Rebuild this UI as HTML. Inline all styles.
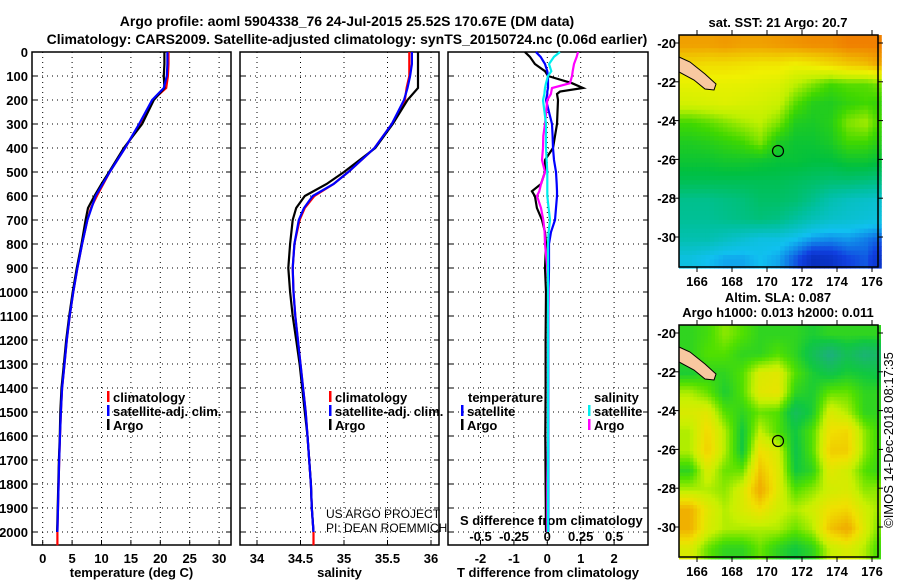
<!DOCTYPE html>
<html><head><meta charset="utf-8"><style>
body{margin:0;background:#fff}
svg{display:block;font-family:"Liberation Sans",sans-serif}
.b{font-weight:bold;font-size:13px}
.t{font-weight:bold;font-size:14px}
</style></head><body>
<svg id="s" width="900" height="580" viewBox="0 0 900 580">
<text class="t" x="347" y="26" text-anchor="middle">Argo profile: aoml 5904338_76 24-Jul-2015 25.52S 170.67E (DM data)</text>
<text class="t" x="347" y="44" text-anchor="middle">Climatology: CARS2009. Satellite-adjusted climatology: synTS_20150724.nc (0.06d earlier)</text>
<g id="g"></g>
</svg>
<script>
// ---- data ----
const depths=[0,50,100,150,200,300,400,500,550,600,650,700,800,900,1000,1100,1200,1300,1400,1500,1600,1700,1800,1900,2000];
const tempClim=[21.4,21.4,21.3,21.0,18.7,16.5,14.0,11.4,10.3,9.2,8.2,7.6,6.7,5.9,5.2,4.6,4.1,3.7,3.3,3.1,2.95,2.8,2.7,2.6,2.5];
const tempSat=[21.2,21.2,21.1,20.6,18.6,16.4,14.0,11.4,10.2,9.0,8.3,7.6,6.7,5.9,5.2,4.6,4.1,3.7,3.3,3.1,2.95,2.8,2.7,2.6,2.5];
const tempArgo=[20.7,20.7,20.6,20.7,18.9,16.9,13.8,11.3,10.0,8.8,7.7,7.3,6.6,5.8,5.1,4.5,4.0,3.6,3.2,3.0,2.9,2.75,2.65,2.55,2.45];
const salClim=[35.75,35.75,35.75,35.72,35.7,35.55,35.35,35.05,34.88,34.66,34.55,34.49,34.43,34.41,34.42,34.44,34.47,34.5,34.53,34.56,34.58,34.6,34.62,34.63,34.65];
const salSat=[35.78,35.78,35.76,35.73,35.69,35.55,35.35,35.05,34.88,34.64,34.54,34.48,34.43,34.41,34.42,34.44,34.47,34.5,34.53,34.56,34.58,34.6,34.62,34.63,34.65];
const salArgo=[35.85,35.85,35.85,35.85,35.73,35.56,35.36,35.0,34.8,34.55,34.45,34.41,34.38,34.36,34.38,34.41,34.45,34.49,34.52,34.55,34.58,34.6,34.62,34.63,34.65];
const diffDepths=[0,20,50,80,100,130,150,165,175,200,300,350,400,450,500,550,580,600,650,700,750,800,900,1000,1200,1400,1600,1800,2000];
const dTArgo=[-0.67,-0.52,-0.37,-0.07,0.02,0.74,1.07,0.38,0.29,0.32,0.29,0.23,0.17,-0.07,-0.07,-0.19,-0.46,-0.37,-0.31,-0.16,-0.07,-0.04,-0.07,-0.04,-0.05,-0.05,-0.06,-0.05,-0.04];
const dTSat=[-0.34,-0.2,-0.07,0.0,0.02,0.02,0.02,0.0,0.0,-0.04,0.14,0.16,0.17,0.2,0.26,0.28,0.29,0.29,0.26,0.23,0.11,0.05,0.05,0.04,0.03,0.03,0.03,0.03,0.03];
const dSSat=[0.095,0.05,0.013,0.03,0.005,-0.01,-0.017,-0.02,-0.022,-0.032,-0.01,-0.01,-0.01,-0.005,0.0,0.0,0.0,0.0,0.01,0.02,0.01,0.005,0.005,0.005,0.005,0.005,0.005,0.005,0.005];
const dSArgo=[0.23,0.22,0.2,0.19,0.185,0.17,0.035,0.03,0.027,0.0,-0.017,-0.03,-0.032,-0.04,-0.017,-0.047,-0.06,-0.077,-0.047,-0.03,-0.02,-0.017,0.0,0.01,0.005,0.005,0.005,0.0,0.0];
const depthTicks=[0,100,200,300,400,500,600,700,800,900,1000,1100,1200,1300,1400,1500,1600,1700,1800,1900,2000];
const tempTicks=[0,5,10,15,20,25,30];
const salTicks=[34,34.5,35,35.5,36];
const dTTicks=[-2,-1,0,1,2];
const dSTicks=[-0.5,-0.25,0,0.25,0.5];
const lonTicks=[166,168,170,172,174,176];
const latTicks=[-20,-22,-24,-26,-28,-30];
const sstGrid=[
[0.85,0.85,0.86,0.85,0.85,0.86,0.87,0.88,0.88,0.9,0.9,0.9],
[0.75,0.74,0.74,0.73,0.72,0.72,0.7,0.72,0.75,0.78,0.8,0.85],
[0.68,0.68,0.68,0.68,0.67,0.66,0.6,0.55,0.5,0.52,0.52,0.55],
[0.64,0.65,0.66,0.65,0.64,0.62,0.52,0.46,0.45,0.48,0.5,0.48],
[0.5,0.52,0.55,0.58,0.6,0.55,0.45,0.44,0.46,0.55,0.58,0.48],
[0.45,0.46,0.48,0.5,0.55,0.45,0.42,0.42,0.44,0.5,0.5,0.45],
[0.42,0.42,0.43,0.43,0.42,0.41,0.41,0.4,0.4,0.42,0.42,0.4],
[0.38,0.38,0.38,0.38,0.38,0.38,0.37,0.36,0.35,0.35,0.34,0.33],
[0.32,0.32,0.33,0.34,0.36,0.36,0.35,0.32,0.28,0.26,0.25,0.24],
[0.31,0.31,0.32,0.33,0.34,0.33,0.3,0.27,0.25,0.24,0.23,0.22],
[0.28,0.28,0.26,0.24,0.22,0.22,0.2,0.17,0.16,0.17,0.15,0.12],
[0.22,0.2,0.18,0.18,0.2,0.18,0.12,0.05,0.06,0.1,0.12,0.05]];
const slaGrid=[
[0.45,0.48,0.55,0.5,0.45,0.45,0.45,0.42,0.45,0.45,0.45,0.45],
[0.45,0.5,0.5,0.45,0.45,0.5,0.45,0.36,0.28,0.36,0.3,0.34],
[0.42,0.45,0.45,0.5,0.64,0.66,0.5,0.42,0.38,0.42,0.4,0.38],
[0.58,0.52,0.42,0.5,0.66,0.68,0.45,0.42,0.52,0.52,0.45,0.45],
[0.64,0.66,0.5,0.45,0.52,0.5,0.35,0.42,0.64,0.58,0.45,0.45],
[0.58,0.72,0.58,0.4,0.6,0.5,0.4,0.5,0.7,0.72,0.55,0.45],
[0.58,0.74,0.58,0.4,0.7,0.64,0.38,0.5,0.74,0.74,0.55,0.45],
[0.45,0.64,0.52,0.52,0.76,0.66,0.4,0.45,0.66,0.62,0.5,0.45],
[0.58,0.58,0.55,0.64,0.82,0.66,0.5,0.55,0.62,0.64,0.55,0.55],
[0.8,0.66,0.58,0.64,0.7,0.62,0.58,0.62,0.7,0.72,0.62,0.55],
[0.8,0.64,0.58,0.58,0.58,0.58,0.52,0.58,0.76,0.82,0.64,0.5],
[0.64,0.52,0.45,0.45,0.52,0.45,0.4,0.45,0.6,0.64,0.58,0.45]];

// ---- drawing ----
const NS='http://www.w3.org/2000/svg';
const G=document.getElementById('g');
function mk(tag,at,parent){const e=document.createElementNS(NS,tag);for(const k in at)e.setAttribute(k,at[k]);(parent||G).appendChild(e);return e;}
function txt(x,y,s,cls,anchor){const e=mk('text',{x:x,y:y,'text-anchor':anchor||'start'});if(cls)e.setAttribute('class',cls);e.textContent=s;return e;}
const yD=d=>52+d*0.24;
const PB=545;
function panel(x0,x1,xScale,ticks,fmt,title,name){
  const fr=mk('rect',{x:x0,y:52,width:x1-x0,height:PB-52,fill:'none',stroke:'#000','stroke-width':1.5});
  
  
  depthTicks.forEach(d=>{mk('line',{x1:x0,x2:x1,y1:yD(d),y2:yD(d),stroke:'#000','stroke-dasharray':'1,4'});mk('line',{x1:x0,x2:x0+5,y1:yD(d),y2:yD(d),stroke:'#000'});mk('line',{x1:x1-5,x2:x1,y1:yD(d),y2:yD(d),stroke:'#000'});});
  ticks.forEach(v=>{const x=xScale(v);mk('line',{x1:x,x2:x,y1:52,y2:PB,stroke:'#000','stroke-dasharray':'1,4'});mk('line',{x1:x,x2:x,y1:PB-5,y2:PB,stroke:'#000'});
    const t=txt(x,563,fmt(v),'b','middle');});
  const tt=txt((x0+x1)/2,577,title,'b','middle');
  
  
}
function line(ds,vs,xs,col,name,w){
  const p=ds.map((d,i)=>xs(vs[i]).toFixed(1)+','+yD(d).toFixed(1)).join(' ');
  const e=mk('polyline',{points:p,fill:'none',stroke:col,'stroke-width':w||2.2,'stroke-linejoin':'miter'});
  
  
}
const xT=v=>42.7+v*5.88, xS=v=>257+(v-34)*87, xdT=v=>547.3+v*33.4, xdS=v=>547.3+v*133.5;
depthTicks.forEach(d=>{const t=txt(28,yD(d)+5,String(d),'b','end');});
panel(32,231,xT,tempTicks,v=>String(v),'temperature (deg C)','temperature-panel');
panel(240,439,xS,salTicks,v=>String(v),'salinity','salinity-panel');
panel(448,648,xdT,dTTicks,v=>String(v),'T difference from climatology','difference-panel');
dSTicks.forEach(v=>{const t=txt(xdS(v),541,String(v),'b','middle');});
const st=txt(460,525,'S difference from climatology','b');
const cd=depths.concat([2055]);
line(cd,tempClim.concat([2.5]),xT,'#f00','temp-climatology-line');
line(depths,tempArgo,xT,'#000','temp-argo-line');
line(depths,tempSat,xT,'#00f','temp-satellite-line');
line(cd,salClim.concat([34.65]),xS,'#f00','sal-climatology-line');
line(depths,salArgo,xS,'#000','sal-argo-line');
line(depths,salSat,xS,'#00f','sal-satellite-line');
line(diffDepths,dTArgo,xdT,'#000','t-diff-argo-line');
line(diffDepths,dTSat,xdT,'#00f','t-diff-satellite-line');
line(diffDepths,dSArgo,xdS,'#f0f','s-diff-argo-line');
line(diffDepths,dSSat,xdS,'#0ee','s-diff-satellite-line');
function leg(x,y,col,label,name){mk('rect',{x:x,y:y-11,width:2.5,height:11,fill:col});const t=txt(x+6,y,label,'b');}
leg(107,402,'#f00','climatology','legend-climatology');leg(107,416,'#00f','satellite-adj. clim.','legend-satellite-adj');leg(107,430,'#000','Argo','legend-argo');
leg(329,402,'#f00','climatology','legend-climatology-2');leg(329,416,'#00f','satellite-adj. clim.','legend-satellite-adj-2');leg(329,430,'#000','Argo','legend-argo-2');
txt(468,402,'temperature','b');txt(594,402,'salinity','b');
leg(461,416,'#00f','satellite','legend-t-satellite');leg(461,430,'#000','Argo','legend-t-argo');
leg(588,416,'#0ee','satellite','legend-s-satellite');leg(588,430,'#f0f','Argo','legend-s-argo');
const u1=txt(326,518,'US ARGO PROJECT');u1.setAttribute('font-size','12');
const u2=txt(326,532,'PI: DEAN ROEMMICH');u2.setAttribute('font-size','12');
// maps
const sstStops=[[0,[0,32,160]],[0.1,[16,64,224]],[0.2,[16,192,240]],[0.3,[0,192,160]],[0.4,[0,192,64]],[0.5,[64,216,0]],[0.6,[192,240,0]],[0.7,[240,240,0]],[0.8,[240,192,0]],[0.9,[240,128,0]],[1,[224,80,0]]];
const slaStops=[[0.25,[32,168,144]],[0.4,[16,200,64]],[0.5,[80,224,0]],[0.6,[200,240,0]],[0.7,[240,224,0]],[0.8,[240,176,0]]];
function cmap(st,v){if(v<=st[0][0])return st[0][1];for(let i=1;i<st.length;i++){if(v<=st[i][0]){const a=st[i-1],b=st[i],f=(v-a[0])/(b[0]-a[0]);return a[1].map((c,k)=>Math.round(c+(b[1][k]-c)*f));}}return st[st.length-1][1];}
function samp(gr,fx,fy){fx=Math.max(0,Math.min(11,fx));fy=Math.max(0,Math.min(11,fy));const i=Math.min(10,Math.floor(fx)),j=Math.min(10,Math.floor(fy)),u=fx-i,w=fy-j;
 return gr[j][i]*(1-u)*(1-w)+gr[j][i+1]*u*(1-w)+gr[j+1][i]*(1-u)*w+gr[j+1][i+1]*u*w;}
function map(y0,grid,stops,cell,name,title1,title2){
  const x0=679,x1=878,y1=y0+232;
  const lonX=l=>697+(l-166)*17.5, latY=a=>y0+8+(-20-a)*19.4;
  const gm=mk('g',{});
  
  
  for(let y=y0;y<y1;y+=cell)for(let x=x0;x<x1;x+=cell){
    const lon=(x-697)/17.5+166, lat=-20-(y-y0-8)/19.4;
    const v=samp(grid,lon-165.5,-20-lat);const c=cmap(stops,v);
    mk('rect',{x:x,y:y,width:cell+0.4,height:cell+0.4,fill:'rgb('+c.join(',')+')'},gm);}
  mk('polygon',{points:[[679,57],[690,62],[705,74],[716,84],[714,90],[705,89],[694,80],[679,72]].map(p=>p[0]+','+(p[1]+y0-35)).join(' '),fill:'#f8c8a0',stroke:'#000','stroke-width':1});
  mk('circle',{cx:778,cy:y0+116,r:5.5,fill:'none',stroke:'#000','stroke-width':1.2});
  mk('rect',{x:x0,y:y0,width:x1-x0,height:y1-y0,fill:'none',stroke:'#000','stroke-width':1.5});
  lonTicks.forEach(l=>{const x=lonX(l);mk('line',{x1:x,x2:x,y1:y1,y2:y1+5,stroke:'#000'});mk('line',{x1:x,x2:x,y1:y0-5,y2:y0,stroke:'#000'});const t=txt(x,y1+19,String(l),'b','middle');t.setAttribute('font-size','15');});
  latTicks.forEach(a=>{const y=latY(a);mk('line',{x1:x0-5,x2:x0,y1:y,y2:y,stroke:'#000'});mk('line',{x1:x1,x2:x1+5,y1:y,y2:y,stroke:'#000'});const t=txt(676,y+5,String(a),'b','end');t.setAttribute('font-size','14');});
  const a=txt(778,y0-8-(title2?15:0),title1,'b','middle');
  if(title2){const b=txt(778,y0-8,title2,'b','middle');}
}
map(35,sstGrid,sstStops,4.4,'sst-map','sat. SST: 21 Argo: 20.7');
map(325,slaGrid,slaStops,3.6,'sla-map','Altim. SLA: 0.087','Argo h1000: 0.013 h2000: 0.011');
const im=txt(0,0,'©IMOS 14-Dec-2018 08:17:35',null,'middle');
im.setAttribute('font-size','13');
im.setAttribute('transform','translate(893,440) rotate(-90)');


</script>
</body></html>
